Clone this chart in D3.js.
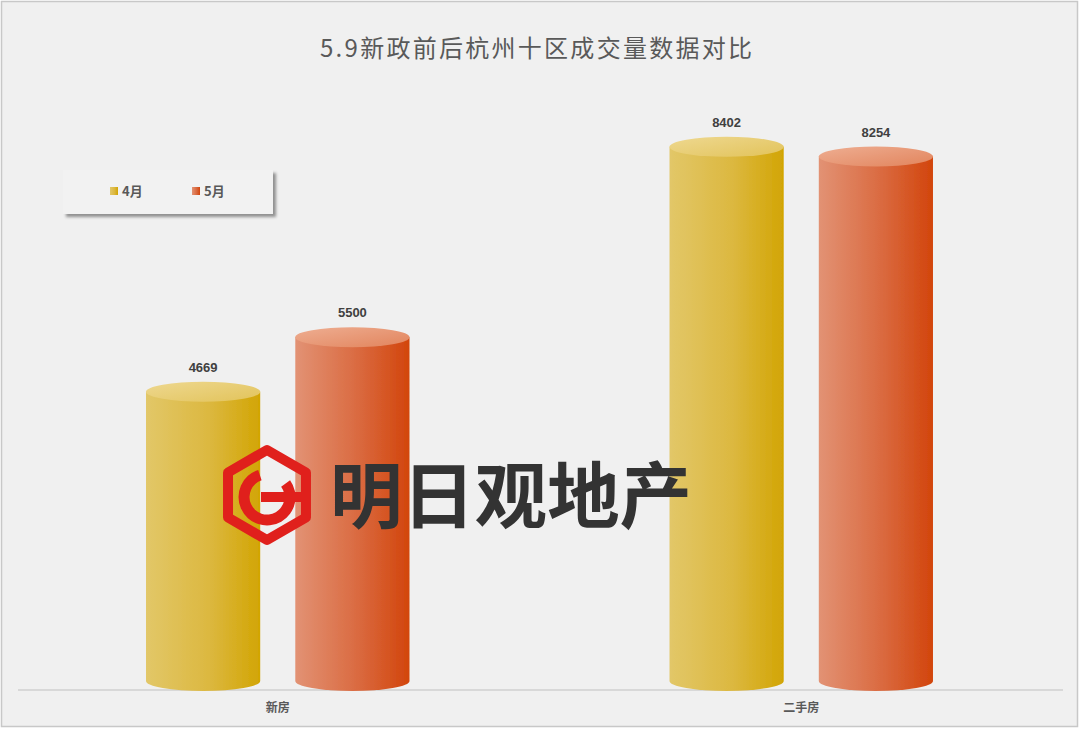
<!DOCTYPE html>
<html><head><meta charset="utf-8">
<script src="https://cdn.jsdelivr.net/npm/d3@7"></script>
<style>html,body{margin:0;padding:0;background:#fff;}svg{display:block;}</style>
</head><body>
<script>
const categories = ["新房", "二手房"];
const seriesNames = ["4月", "5月"];
const april = [4669, 8402];
const may = [5500, 8254];
const titleText = "5.9新政前后杭州十区成交量数据对比";
const watermarkText = "明日观地产";

const W = 1080, H = 736;
const svg = d3.select("body").append("svg").attr("width", W).attr("height", H);
const defs = svg.append("defs");

const palettes = [
  {body: ["#e2c768", "#dcb840", "#d2a504"], top: ["#eed890", "#e2c35a"]},
  {body: ["#e29274", "#da6a40", "#d2450c"], top: ["#eeae92", "#e2845c"]}
];
palettes.forEach((p, i) => {
  const g = defs.append("linearGradient").attr("id", "body" + i).attr("x1", 0).attr("x2", 1).attr("y1", 0).attr("y2", 0);
  g.append("stop").attr("offset", "0%").attr("stop-color", p.body[0]);
  g.append("stop").attr("offset", "55%").attr("stop-color", p.body[1]);
  g.append("stop").attr("offset", "100%").attr("stop-color", p.body[2]);
  const t = defs.append("linearGradient").attr("id", "top" + i).attr("x1", 0).attr("x2", 1).attr("y1", 0).attr("y2", 1);
  t.append("stop").attr("offset", "0%").attr("stop-color", p.top[0]);
  t.append("stop").attr("offset", "100%").attr("stop-color", p.top[1]);
});
const soft = defs.append("filter").attr("id", "soft").attr("x", "-5%").attr("y", "-5%").attr("width", "110%").attr("height", "110%");
soft.append("feGaussianBlur").attr("stdDeviation", 0.7);
const sh = defs.append("filter").attr("id", "shadow").attr("x", "-10%").attr("y", "-20%").attr("width", "130%").attr("height", "160%");
sh.append("feDropShadow").attr("dx", 3).attr("dy", 3).attr("stdDeviation", 1.8).attr("flood-color", "#000").attr("flood-opacity", 0.4);

// frame
svg.append("rect").attr("x", 1.5).attr("y", 1.5).attr("width", 1076).attr("height", 725)
  .attr("fill", "#f0f0f0").attr("stroke", "#c8c8c8").attr("stroke-width", 1.5);

// title
svg.append("text").attr("x", 536).attr("y", 57).attr("text-anchor", "middle")
  .attr("font-family", "'Noto Sans CJK SC', sans-serif").attr("font-size", 24)
  .attr("fill", "#595959").attr("textLength", 432).attr("lengthAdjust", "spacing")
  .text(titleText);

// scales
const x0 = d3.scaleBand().domain(categories).range([16, 1063]);
const x1 = d3.scaleBand().domain(seriesNames).range([0, x0.bandwidth()]).paddingInner(0.235).paddingOuter(0.871);
const y = d3.scaleLinear().domain([0, 10000]).range([698, 42]);
const baseY = 690, ry = 10, bottomCenter = baseY - 9;

// baseline
svg.append("line").attr("x1", 18).attr("x2", x0.range()[1]).attr("y1", baseY).attr("y2", baseY)
  .attr("stroke", "#d0d0d0").attr("stroke-width", 1.5);

// category labels
svg.append("g").selectAll("text").data(categories).join("text")
  .attr("x", d => x0(d) + x0.bandwidth() / 2).attr("y", 712).attr("text-anchor", "middle")
  .attr("font-family", "'Noto Sans CJK SC', sans-serif").attr("font-size", 12).attr("font-weight", "bold")
  .attr("fill", "#595959").text(d => d);

const seriesData = [april, may];
const bars = [];
categories.forEach((c, ci) => {
  seriesNames.forEach((s, si) => {
    bars.push({cat: c, ser: s, si, v: seriesData[si][ci]});
  });
});

const bg = svg.append("g").attr("filter", "url(#soft)");
bars.forEach(b => {
  const left = x0(b.cat) + x1(b.ser), w = x1.bandwidth(), rx = w / 2, cx = left + rx;
  const ty = y(b.v);
  const g = bg.append("g");
  g.append("path")
    .attr("d", `M${left},${ty} L${left},${bottomCenter} A${rx},${ry} 0 0 0 ${left + w},${bottomCenter} L${left + w},${ty} Z`)
    .attr("fill", `url(#body${b.si})`);
  g.append("ellipse").attr("cx", cx).attr("cy", ty).attr("rx", rx).attr("ry", ry)
    .attr("fill", `url(#top${b.si})`);
});

// value labels
svg.append("g").selectAll("text").data(bars).join("text")
  .attr("x", d => x0(d.cat) + x1(d.ser) + x1.bandwidth() / 2)
  .attr("y", d => y(d.v) - 20).attr("text-anchor", "middle")
  .attr("font-family", "'Liberation Sans', Arial, sans-serif").attr("font-size", 13).attr("font-weight", "bold")
  .attr("fill", "#404040").text(d => d.v);

// legend
const lg = svg.append("g");
lg.append("rect").attr("x", 63).attr("y", 170).attr("width", 210).attr("height", 44)
  .attr("fill", "#f2f2f2").attr("filter", "url(#shadow)");
const legendX = [110, 192];
seriesNames.forEach((s, i) => {
  lg.append("rect").attr("x", legendX[i]).attr("y", 187).attr("width", 8).attr("height", 8)
    .attr("fill", `url(#body${i})`);
  lg.append("text").attr("x", legendX[i] + 12).attr("y", 196)
    .attr("font-family", "'Noto Sans CJK SC', sans-serif").attr("font-size", 13).attr("font-weight", "bold")
    .attr("fill", "#595959").text(s);
});

// watermark
const wm = svg.append("g");
const hx = 267, hy = 495, hr = 45;
const hexPts = d3.range(6).map(k => {
  const a = Math.PI / 180 * (60 * k - 90);
  return [hx + hr * Math.cos(a), hy + hr * Math.sin(a)];
});
wm.append("path").attr("d", "M" + hexPts.map(p => p.join(",")).join("L") + "Z")
  .attr("fill", "none").attr("stroke", "#e0201c").attr("stroke-width", 10).attr("stroke-linejoin", "round");
const gr = 23;
const arc = d3.arc().innerRadius(gr - 5.5).outerRadius(gr + 5.5).startAngle(Math.PI * 0.3).endAngle(Math.PI * 1.9);
wm.append("path").attr("transform", `translate(${hx},${hy + 2})`).attr("d", arc()).attr("fill", "#e0201c");
wm.append("rect").attr("x", hx - 6).attr("y", hy - 3).attr("width", 44).attr("height", 10).attr("fill", "#e0201c");
wm.append("text").attr("x", 330).attr("y", 522)
  .attr("font-family", "'Noto Sans CJK SC', sans-serif").attr("font-size", 72).attr("font-weight", "bold")
  .attr("fill", "#333333").attr("textLength", 362).attr("lengthAdjust", "spacingAndGlyphs")
  .text(watermarkText);
</script>
</body></html>
